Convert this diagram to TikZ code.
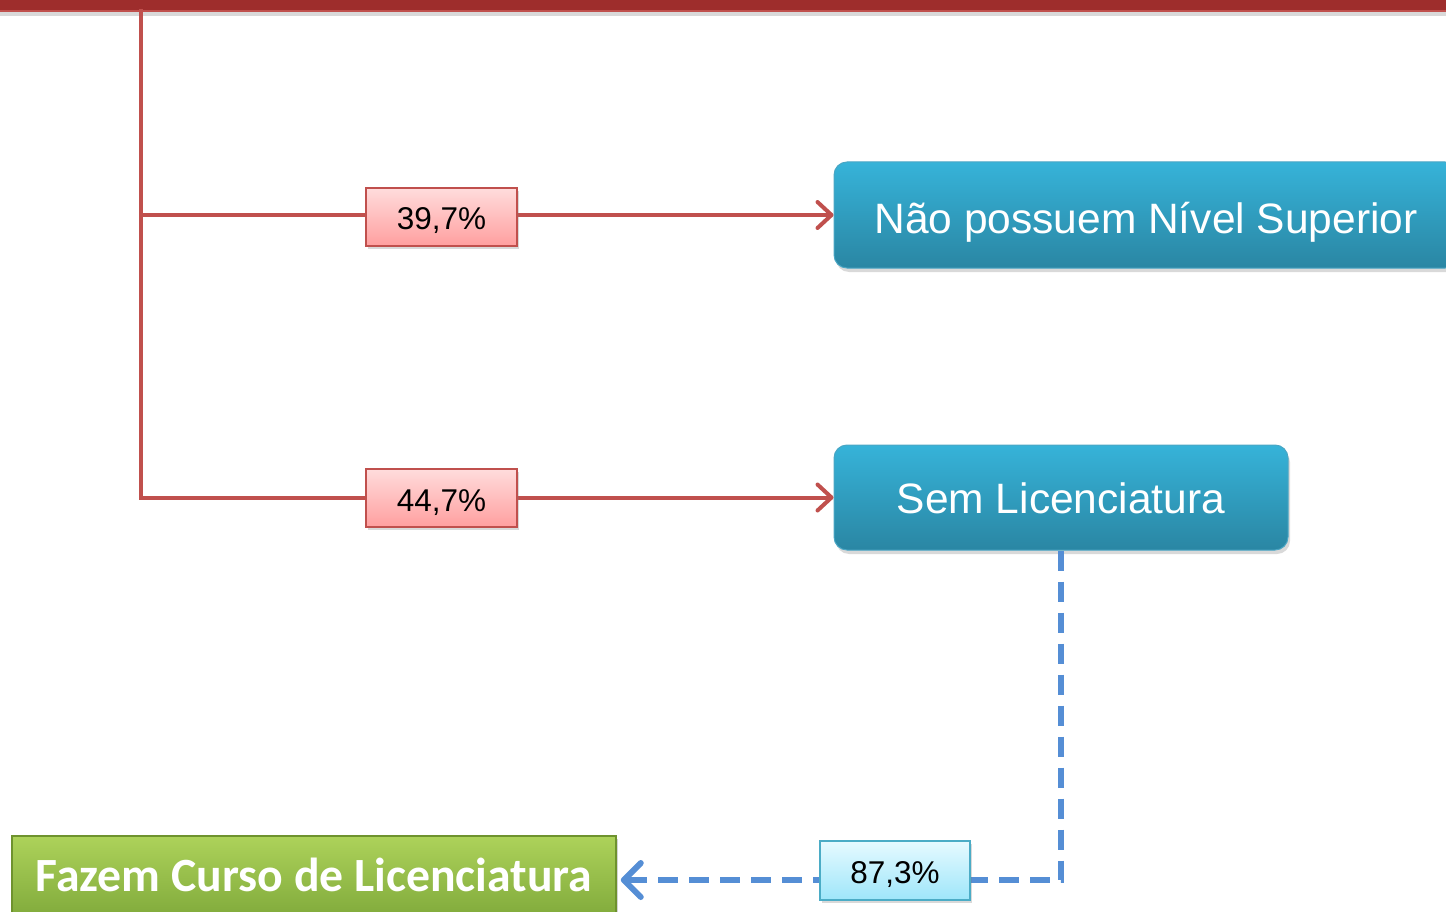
\documentclass[tikz,border=0pt]{standalone}
\usepackage{fontspec}
\setmainfont{Liberation Sans}
\newfontfamily\calib{Carlito}
\usetikzlibrary{arrows.meta,shadows}
\definecolor{barred}{HTML}{9E2D2C}
\definecolor{linered}{HTML}{C0504D}
\definecolor{pinktop}{HTML}{FFDCDC}
\definecolor{pinkbot}{HTML}{FF9F9F}
\definecolor{bluetop}{HTML}{36B3D9}
\definecolor{bluebot}{HTML}{2A86A3}
\definecolor{blueedge}{HTML}{4AA6C4}
\definecolor{cyantop}{HTML}{E6FAFF}
\definecolor{cyanbot}{HTML}{9EE6FA}
\definecolor{cyanedge}{HTML}{4BACC6}
\definecolor{greentop}{HTML}{ADD25A}
\definecolor{greenbot}{HTML}{7DA739}
\definecolor{greenedge}{HTML}{6E922E}
\definecolor{dashblue}{HTML}{558ED5}
\newcommand{\lowtext}[2]{\raisebox{-#1pt}[0pt][0pt]{#2}}
\tikzset{
  redline/.style={draw=linered, line width=4pt},
  redarrow/.style={redline, -{Straight Barb[length=14pt,width=26pt,line width=4pt,round]}},
  bluedash/.style={draw=dashblue, line width=6pt, dash pattern=on 20pt off 11pt},
  pctred/.style={draw=linered, line width=1.5pt, top color=pinktop, bottom color=pinkbot,
    minimum width=151pt, minimum height=58pt, inner sep=0pt, font=\fontsize{31.5}{36}\selectfont,
    drop shadow={shadow xshift=2pt, shadow yshift=-3pt, opacity=0.3}},
  pctcyan/.style={draw=cyanedge, line width=1.5pt, top color=cyantop, bottom color=cyanbot,
    minimum width=150pt, minimum height=59pt, inner sep=0pt, font=\fontsize{31.5}{36}\selectfont,
    drop shadow={shadow xshift=2pt, shadow yshift=-3pt, opacity=0.3}},
  bluebox/.style={draw=blueedge, line width=1pt, rounded corners=13pt, top color=bluetop, bottom color=bluebot,
    text=white, inner sep=0pt, font=\fontsize{42.5}{48}\selectfont,
    drop shadow={shadow xshift=2pt, shadow yshift=-4pt, opacity=0.3}},
  greenbox/.style={draw=greenedge, line width=1.5pt, top color=greentop, bottom color=greenbot,
    text=white, inner sep=0pt, font=\calib\bfseries\fontsize{47.7}{52}\selectfont,
    drop shadow={shadow xshift=2pt, shadow yshift=-3pt, opacity=0.35}}
}
\begin{document}
\begin{tikzpicture}[x=1pt,y=-1pt]
\useasboundingbox (0,0) rectangle (1446,912);
\clip (0,0) rectangle (1446,912);
% top bar
\fill[black, opacity=0.15] (0,11) rectangle (1446,16);
\fill[barred] (0,0) rectangle (1446,11);
\fill[linered] (0,10) rectangle (1446,12);
% nodes
\node[bluebox, minimum width=624pt, minimum height=106pt] (nao) at (1146,215) {\lowtext{18}{Não possuem Nível Superior}};
\node[bluebox, minimum width=454pt, minimum height=105pt] (sem) at (1061,497.5) {\lowtext{16}{Sem Licenciatura}};
\node[greenbox, minimum width=604pt, minimum height=88pt] (faz) at (314,880) {\lowtext{11}{Fazem Curso de Licenciatura}};
\coordinate (top) at (141,9);
\coordinate (mid) at (141,215);
% connectors
\draw[redline] (top) -- (mid);
\draw[redarrow] (mid) -- (nao.west);
\draw[redarrow] (top) |- (sem.west);
\draw[bluedash, -{Straight Barb[length=17pt,width=34pt,line width=6pt,round]}, shorten >=4pt] (sem.south) |- (faz.east);
% labels
\node[pctred] (p1) at (441.5,217) {\lowtext{13}{39,7\%}};
\node[pctred] (p2) at (441.5,498) {\lowtext{13}{44,7\%}};
\node[pctcyan] (p3) at (895,870.5) {\lowtext{12.5}{87,3\%}};
\end{tikzpicture}
\end{document}
